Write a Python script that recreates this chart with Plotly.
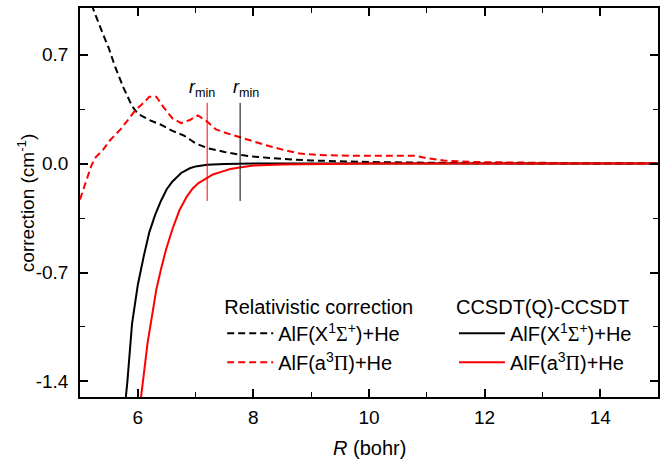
import plotly.graph_objects as go

# Relativistic correction, AlF(X1Σ+)+He  (dashed black)
rel_x_R = [5.2, 5.3, 5.4, 5.5, 5.6, 5.75, 5.9, 6.0, 6.2, 6.4, 6.6, 6.8, 7.0, 7.2, 7.5, 7.8, 8.0, 8.5, 9.0, 10.0, 11.0, 12.0, 13.0, 14.0, 15.0]
rel_x_V = [1.02, 0.92, 0.83, 0.74, 0.63, 0.49, 0.37, 0.32, 0.28, 0.25, 0.21, 0.18, 0.13, 0.10, 0.075, 0.055, 0.045, 0.03, 0.02, 0.01, 0.005, 0.002, 0.001, 0.0, 0.0]

# Relativistic correction, AlF(a3Π)+He (dashed red)
rel_a_R = [5.0, 5.1, 5.2, 5.27, 5.4, 5.52, 5.7, 5.85, 5.95, 6.1, 6.2, 6.32, 6.45, 6.6, 6.75, 6.9, 7.04, 7.2, 7.35, 7.5, 7.76, 7.93, 8.2, 8.5, 8.8, 9.1, 9.66, 10.2, 10.8, 11.0, 11.3, 11.8, 12.5, 13.5, 15.0]
rel_a_V = [-0.23, -0.12, -0.01, 0.04, 0.09, 0.15, 0.22, 0.29, 0.34, 0.39, 0.43, 0.43, 0.36, 0.29, 0.26, 0.28, 0.31, 0.27, 0.22, 0.20, 0.17, 0.15, 0.12, 0.09, 0.065, 0.056, 0.05, 0.05, 0.05, 0.035, 0.02, 0.01, 0.006, 0.003, 0.002]

# CCSDT(Q)-CCSDT, AlF(X1Σ+)+He (solid black)
q_x_R = [5.78, 5.82, 5.9, 6.0, 6.1, 6.2, 6.3, 6.4, 6.5, 6.6, 6.75, 6.9, 7.0, 7.2, 7.5, 8.0, 9.0, 10.0, 12.0, 15.0]
q_x_V = [-1.55, -1.40, -1.03, -0.78, -0.60, -0.44, -0.33, -0.24, -0.165, -0.115, -0.06, -0.03, -0.018, -0.008, -0.003, 0.0, 0.0, 0.0, 0.0, 0.0]

# CCSDT(Q)-CCSDT, AlF(a3Π)+He (solid red)
q_a_R = [6.04, 6.1, 6.17, 6.25, 6.32, 6.4, 6.49, 6.6, 6.72, 6.85, 6.95, 7.05, 7.18, 7.3, 7.47, 7.6, 7.79, 8.0, 8.5, 9.0, 10.0, 12.0, 15.0]
q_a_V = [-1.55, -1.38, -1.15, -0.97, -0.81, -0.68, -0.55, -0.42, -0.30, -0.21, -0.16, -0.125, -0.094, -0.07, -0.05, -0.035, -0.023, -0.013, -0.005, -0.002, 0.0, 0.0, 0.0]

# r_min markers
rmin_a = 7.2
rmin_x = 7.77
rmin_span = [0.39, -0.24]

x_ticks = [6, 8, 10, 12, 14]
y_ticks = [0.7, 0.0, -0.7, -1.4]
y_tick_text = ["0.7", "0.0", "-0.7", "-1.4"]

FONT = "Arial, 'Liberation Sans', sans-serif"
SER = "<span style=\"font-family:'Liberation Serif', 'DejaVu Serif', serif\">"
lab_X = "AlF(X<sup>1</sup>" + SER + "Σ</span><sup>+</sup>)+He"
lab_a = "AlF(a<sup>3</sup>" + SER + "Π</span>)+He"

fig = go.Figure()
dash = "7px,4px"
fig.add_trace(go.Scatter(x=rel_x_R, y=rel_x_V, mode="lines", name=lab_X,
                         line=dict(color="black", width=2, dash=dash), legend="legend"))
fig.add_trace(go.Scatter(x=rel_a_R, y=rel_a_V, mode="lines", name=lab_a,
                         line=dict(color="#ff0000", width=2, dash=dash), legend="legend"))
fig.add_trace(go.Scatter(x=q_x_R, y=q_x_V, mode="lines", name=lab_X,
                         line=dict(color="black", width=2), legend="legend2"))
fig.add_trace(go.Scatter(x=q_a_R, y=q_a_V, mode="lines", name=lab_a,
                         line=dict(color="#ff0000", width=2), legend="legend2"))
fig.add_trace(go.Scatter(x=[rmin_a, rmin_a], y=rmin_span, mode="lines", showlegend=False,
                         line=dict(color="#ff0000", width=1), hoverinfo="skip"))
fig.add_trace(go.Scatter(x=[rmin_x, rmin_x], y=rmin_span, mode="lines", showlegend=False,
                         line=dict(color="black", width=1), hoverinfo="skip"))

for xv, off in [(rmin_a, -0.09), (rmin_x, 0.1)]:
    fig.add_annotation(x=xv + off, y=rmin_span[0], xref="x", yref="y",
                       text="<i>r</i><sub>min</sub>", showarrow=False,
                       yanchor="bottom", yshift=1, font=dict(size=18, color="black", family=FONT))

# axis titles
fig.add_annotation(x=0.5, y=-0.131, xref="paper", yref="paper", text="<i>R</i> (bohr)",
                   showarrow=False, xanchor="center", yanchor="middle",
                   font=dict(size=20, color="black", family=FONT))
fig.add_annotation(x=-0.094, y=0.5, xref="paper", yref="paper", text="correction (cm<sup>-1</sup>)",
                   showarrow=False, xanchor="center", yanchor="middle", textangle=-90,
                   font=dict(size=19, color="black", family=FONT))

axis_common = dict(showline=True, linecolor="black", linewidth=1.5, mirror="ticks",
                   ticks="inside", ticklen=8, tickwidth=1.5, tickcolor="black",
                   showgrid=False, zeroline=False, automargin=False,
                   tickfont=dict(size=19, color="black", family=FONT))

fig.update_xaxes(range=[5, 15], tickvals=x_ticks,
                 minor=dict(ticks="inside", ticklen=5, tickwidth=1.2, tickcolor="black", dtick=1, tick0=5),
                 ticklabelstandoff=2, **axis_common)
fig.update_yaxes(range=[-1.5, 1.0], tickvals=y_ticks, ticktext=y_tick_text,
                 minor=dict(ticks="inside", ticklen=5, tickwidth=1.2, tickcolor="black", dtick=0.35, tick0=0),
                 ticklabelstandoff=6, **axis_common)

leg_common = dict(font=dict(size=20, color="black", family=FONT), bgcolor="rgba(0,0,0,0)",
                  xanchor="left", yanchor="top", itemwidth=46, tracegroupgap=0,
                  title_font=dict(size=20, color="black", family=FONT))
fig.update_layout(
    width=667, height=460,
    margin=dict(l=80, r=9, t=8, b=63),
    paper_bgcolor="white", plot_bgcolor="white",
    font=dict(family=FONT, color="black"),
    legend=dict(x=0.246, y=0.281, title_text="Relativistic correction", **leg_common),
    legend2=dict(x=0.647, y=0.281, title_text="CCSDT(Q)-CCSDT", **leg_common),
)

fig.write_html("out.html")
